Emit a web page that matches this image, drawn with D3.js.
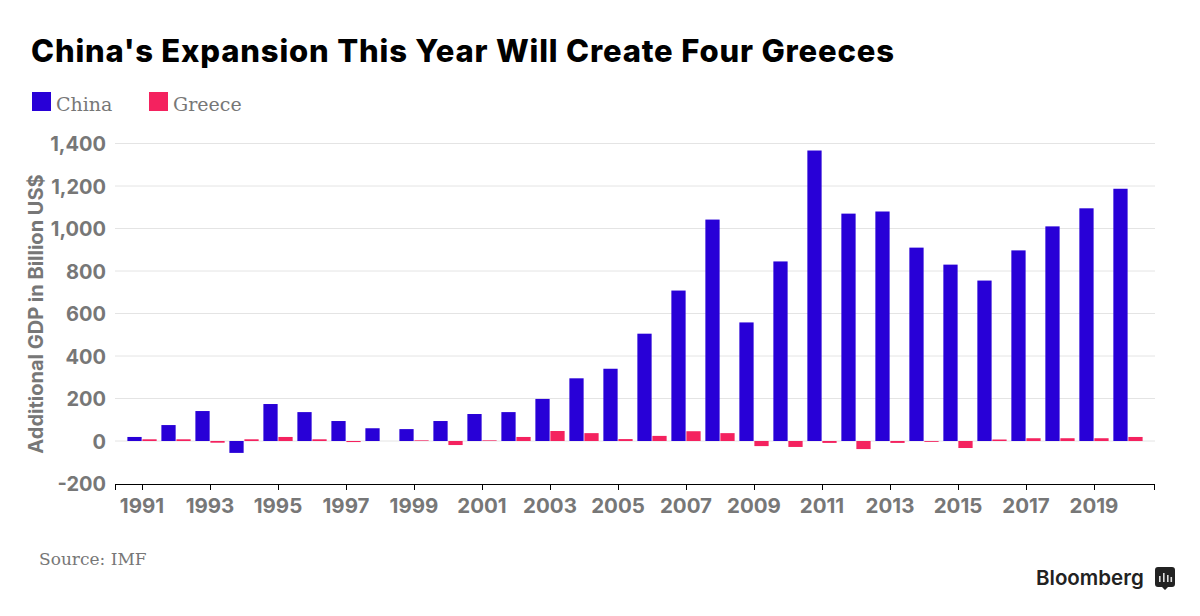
<!DOCTYPE html>
<html><head><meta charset="utf-8">
<script src="https://cdn.jsdelivr.net/npm/d3@7/dist/d3.min.js"></script>
<style>html,body{margin:0;padding:0;background:#fff}svg{display:block}</style>
</head><body><svg id="c" width="1200" height="616"></svg>
<script>
const years = d3.range(1991, 2021);
const china = [19,75,141,-56,174,136,94,60,56,94,127,136,198,295,340,505,708,1042,558,845,1367,1070,1080,910,830,755,897,1010,1095,1187];
const greece = [8,8,-8,8,19,8,-5,0,3,-19,3,19,47,37,9,24,46,37,-24,-28,-9,-38,-9,-4,-33,7,13,13,13,19];
const yTicks = [-200,0,200,400,600,800,1000,1200,1400];
const seriesNames = ["China","Greece"];
const colors = {China:"#2800d7",Greece:"#f4225f"};
const titleText = "China's Expansion This Year Will Create Four Greeces";
const yLabel = "Additional GDP in Billion US$";
const sourceText = "Source: IMF";

const svg = d3.select("#c");
const inter="'Inter','Liberation Sans',sans-serif", serif = "'DejaVu Serif',serif", grey="#777";
const x = d3.scaleBand().domain(years).range([115.5,1154.5]).paddingInner(0).paddingOuter(0.28);
const x1 = d3.scaleBand().domain(seriesNames).range([0,x.bandwidth()]).paddingInner(0.05).paddingOuter(0.158);
const y = d3.scaleLinear().domain([-200,1400]).range([483.5,143.5]);

svg.append("text").attr("x",31).attr("y",62).attr("font-family",inter).attr("font-weight",800).attr("font-size",31).attr("letter-spacing",0.83).attr("fill","#000").text(titleText);

const leg = svg.append("g");
[[32,56],[149,173]].forEach(([sx,tx],i)=>{
  leg.append("rect").attr("x",sx).attr("y",92).attr("width",19).attr("height",19).attr("fill",colors[seriesNames[i]]);
  leg.append("text").attr("x",tx).attr("y",110.5).attr("font-family",serif).attr("font-size",19).attr("fill",grey).text(seriesNames[i]);
});

const grid = svg.append("g");
yTicks.forEach(t=>{
  grid.append("line").attr("x1",115).attr("x2",1155).attr("y1",y(t)).attr("y2",y(t)).attr("stroke",t===-200?"none":"#e4e4e4");
  grid.append("text").attr("x",106).attr("y",y(t)+7.5).attr("text-anchor","end").attr("font-family",inter).attr("font-weight",700).attr("font-size",20).attr("fill",grey).text(d3.format(",")(t).replace("−","-"));
});

const rows = [[ "China",china ],[ "Greece",greece ]];
rows.forEach(([n,vals])=>{
  svg.append("g").selectAll("rect").data(vals).join("rect")
    .attr("x",(d,i)=>x(years[i])+x1(n)).attr("width",x1.bandwidth())
    .attr("y",d=>Math.min(y(0),y(d))).attr("height",d=>Math.abs(y(d)-y(0)))
    .attr("fill",colors[n]);
});

const ax = svg.append("g").attr("transform","translate(0,484.5)");
ax.append("line").attr("x1",115).attr("x2",1155).attr("stroke","#000").attr("stroke-width",1);
const edges = [115.5,1154.5];
edges.forEach(e=>ax.append("line").attr("x1",e).attr("x2",e).attr("y1",0).attr("y2",5.5).attr("stroke","#000"));
years.filter(v=>v%2===1).forEach(v=>{
  const cx = x(v)+x.bandwidth()/2;
  ax.append("line").attr("x1",Math.round(cx)+.5).attr("x2",Math.round(cx)+.5).attr("y1",0).attr("y2",5.5).attr("stroke","#000");
  ax.append("text").attr("x",cx).attr("y",28).attr("text-anchor","middle").attr("font-family",inter).attr("font-weight",700).attr("font-size",20.5).attr("fill",grey).text(v);
});

svg.append("text").attr("transform","translate(43,314) rotate(-90)").attr("text-anchor","middle").attr("font-family",inter).attr("font-weight",700).attr("font-size",20).attr("fill",grey).text(yLabel);

svg.append("text").attr("x",39).attr("y",565).attr("font-family",serif).attr("font-size",17).attr("fill",grey).text(sourceText);

svg.append("text").attr("x",1036).attr("y",585).attr("font-family",inter).attr("font-weight",600).attr("font-size",20.5).attr("fill","#222").text("Bloomberg");
const logo = svg.append("g").attr("transform","translate(1155,567)");
logo.append("path").attr("d","M3,0H17a3,3 0 0 1 3,3V17a3,3 0 0 1 -3,3H13L10,23L7,20H3a3,3 0 0 1 -3,-3V3a3,3 0 0 1 3,-3Z").attr("fill","#222");
[[4,9,6],[8,6,9],[12,8,7],[15.5,10,5]].forEach(([a,b,h])=>logo.append("rect").attr("x",a).attr("y",b).attr("width",1.6).attr("height",h).attr("fill","#ddd"));
</script></body></html>
